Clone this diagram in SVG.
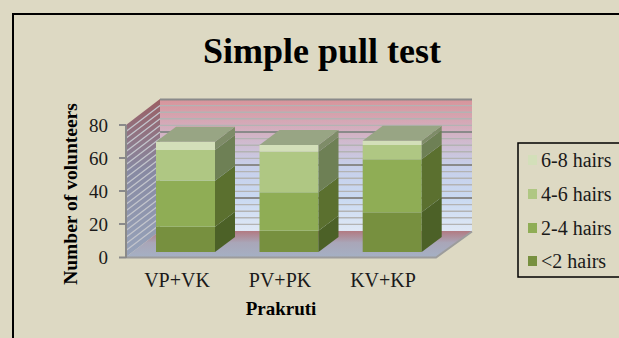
<svg xmlns="http://www.w3.org/2000/svg" width="619" height="338" viewBox="0 0 619 338">
<defs>
<linearGradient id="gBack" x1="0" y1="99" x2="0" y2="231" gradientUnits="userSpaceOnUse">
<stop offset="0" stop-color="#d8949a"/>
<stop offset="0.25" stop-color="#d3b1c2"/>
<stop offset="0.5" stop-color="#c7cfea"/>
<stop offset="0.75" stop-color="#c9d9f1"/>
<stop offset="1" stop-color="#dfe8f5"/>
</linearGradient>
<linearGradient id="gSide" x1="0" y1="99" x2="0" y2="257" gradientUnits="userSpaceOnUse">
<stop offset="0" stop-color="#9a5e63"/>
<stop offset="0.45" stop-color="#8789a2"/>
<stop offset="1" stop-color="#97a3ba"/>
</linearGradient>
<linearGradient id="gFloor" x1="0" y1="231" x2="0" y2="257" gradientUnits="userSpaceOnUse">
<stop offset="0" stop-color="#b27a82"/>
<stop offset="0.45" stop-color="#a9a6b8"/>
<stop offset="1" stop-color="#a5b0c4"/>
</linearGradient>
<style>
.lbl{font-family:"Liberation Serif","Times New Roman",serif;font-size:19px;fill:#1a1a1a}
.bold{font-weight:bold;fill:#000}
.minor{stroke:#b3b3b3;stroke-width:1.4;fill:none}
.major{stroke:#8a8a8a;stroke-width:1.8;fill:none}
.side{stroke:#c3c5cc;stroke-width:1.3;fill:none}
.axis{stroke:#8a8a8a;stroke-width:2;fill:none}
.c1{fill:#77903f}.s1{fill:#4c6127}
.c2{fill:#8fad55}.s2{fill:#5b702f}
.c3{fill:#afc783}.s3{fill:#6e8055}
.c4{fill:#d3dfb9}.s4{fill:#7e8c68}
.top{fill:#98a584}
</style>
</defs>
<rect x="0" y="0" width="619" height="338" fill="#ddd9c3"/>
<rect x="13" y="14" width="620" height="340" fill="#ddd9c3" stroke="#000" stroke-width="2"/>
<text class="lbl bold" x="322" y="63" text-anchor="middle" style="font-size:36px">Simple pull test</text>
<g id="plot">
<rect x="160" y="99" width="312" height="132" fill="url(#gBack)"/>
<path class="minor" d="M160 105.6H472M160 112.2H472M160 118.8H472M160 125.4H472M160 138.6H472M160 145.2H472M160 151.8H472M160 158.4H472M160 171.6H472M160 178.2H472M160 184.8H472M160 191.4H472M160 204.6H472M160 211.2H472M160 217.8H472M160 224.4H472"/>
<path class="major" d="M160 99.5H472M160 132H472M160 165H472M160 198H472"/>
<polygon points="126,125 160,99 160,231 126,257" fill="url(#gSide)"/>
<path class="side" d="M126 250.4L160 224.4M126 243.8L160 217.8M126 237.2L160 211.2M126 230.6L160 204.6M126 224L160 198M126 217.4L160 191.4M126 210.8L160 184.8M126 204.2L160 178.2M126 197.6L160 171.6M126 191L160 165M126 184.4L160 158.4M126 177.8L160 151.8M126 171.2L160 145.2M126 164.6L160 138.6M126 158L160 132M126 151.4L160 125.4M126 144.8L160 118.8M126 138.2L160 112.2M126 131.6L160 105.6"/>
<polygon points="126,257 436,257 472,231 160,231" fill="url(#gFloor)"/>
<path d="M126 257.5H436L472 231.5" stroke="#9c9c9c" stroke-width="2" fill="none"/>
<path class="axis" d="M126 125V258M119 125H126M119 158H126M119 191H126M119 224H126M119 257.5H126"/>
</g>
<g id="axis-labels">
<text class="lbl" x="108" y="132" text-anchor="end">80</text>
<text class="lbl" x="108" y="165" text-anchor="end">60</text>
<text class="lbl" x="108" y="198" text-anchor="end">40</text>
<text class="lbl" x="108" y="231" text-anchor="end">20</text>
<text class="lbl" x="108" y="264" text-anchor="end">0</text>
<text class="lbl" x="177" y="287" text-anchor="middle" style="font-size:20px">VP+VK</text>
<text class="lbl" x="280" y="287" text-anchor="middle" style="font-size:20px">PV+PK</text>
<text class="lbl" x="383" y="287" text-anchor="middle" style="font-size:20px">KV+KP</text>
<text class="lbl bold" x="281" y="315" text-anchor="middle">Prakruti</text>
<text class="lbl bold" transform="translate(77,194) rotate(-90)" text-anchor="middle" style="font-size:19.5px">Number of volunteers</text>
</g>
<g id="bar-vpvk">
<rect class="c1" x="156" y="226.7" width="59" height="25.3"/>
<rect class="c2" x="156" y="180.7" width="59" height="46"/>
<rect class="c3" x="156" y="150" width="59" height="30.7"/>
<rect class="c4" x="156" y="141.7" width="59" height="8.3"/>
<polygon class="s1" points="215,252 235,237 235,211.7 215,226.7"/>
<polygon class="s2" points="215,226.7 235,211.7 235,165.7 215,180.7"/>
<polygon class="s3" points="215,180.7 235,165.7 235,135 215,150"/>
<polygon class="s4" points="215,150 235,135 235,126.7 215,141.7"/>
<polygon class="top" points="156,141.7 176,126.7 235,126.7 215,141.7"/>
</g>
<g id="bar-pvpk">
<rect class="c1" x="259.5" y="230.7" width="59" height="21.3"/>
<rect class="c2" x="259.5" y="192.3" width="59" height="38.4"/>
<rect class="c3" x="259.5" y="151.7" width="59" height="40.6"/>
<rect class="c4" x="259.5" y="145" width="59" height="6.7"/>
<polygon class="s1" points="318.5,252 338.5,237 338.5,215.7 318.5,230.7"/>
<polygon class="s2" points="318.5,230.7 338.5,215.7 338.5,177.3 318.5,192.3"/>
<polygon class="s3" points="318.5,192.3 338.5,177.3 338.5,136.7 318.5,151.7"/>
<polygon class="s4" points="318.5,151.7 338.5,136.7 338.5,130 318.5,145"/>
<polygon class="top" points="259.5,145 279.5,130 338.5,130 318.5,145"/>
</g>
<g id="bar-kvkp">
<rect class="c1" x="362.7" y="212.3" width="59" height="39.7"/>
<rect class="c2" x="362.7" y="159.3" width="59" height="53"/>
<rect class="c3" x="362.7" y="145" width="59" height="14.3"/>
<rect class="c4" x="362.7" y="140.7" width="59" height="4.3"/>
<polygon class="s1" points="421.7,252 441.7,237 441.7,197.3 421.7,212.3"/>
<polygon class="s2" points="421.7,212.3 441.7,197.3 441.7,144.3 421.7,159.3"/>
<polygon class="s3" points="421.7,159.3 441.7,144.3 441.7,130 421.7,145"/>
<polygon class="s4" points="421.7,145 441.7,130 441.7,125.7 421.7,140.7"/>
<polygon class="top" points="362.7,140.7 382.7,125.7 441.7,125.7 421.7,140.7"/>
</g>
<g id="legend">
<rect x="518" y="143" width="120" height="134" fill="#ddd9c3" stroke="#000" stroke-width="1.5"/>
<rect class="c4" x="528" y="155" width="9" height="10"/>
<text class="lbl" x="541" y="167" style="font-size:20px">6-8 hairs</text>
<rect class="c3" x="528" y="189" width="9" height="10"/>
<text class="lbl" x="541" y="201" style="font-size:20px">4-6 hairs</text>
<rect class="c2" x="528" y="223" width="9" height="10"/>
<text class="lbl" x="541" y="235" style="font-size:20px">2-4 hairs</text>
<rect class="c1" x="528" y="256" width="9" height="10"/>
<text class="lbl" x="541" y="268" style="font-size:20px">&lt;2 hairs</text>
</g>
</svg>
